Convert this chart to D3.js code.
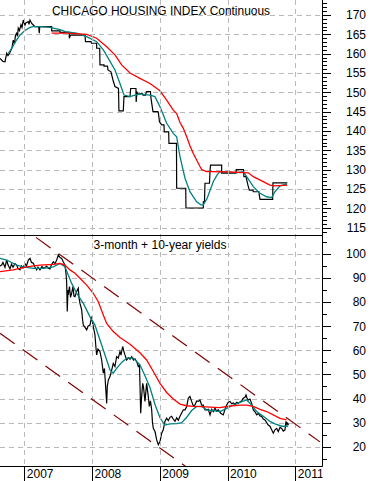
<!DOCTYPE html>
<html><head><meta charset="utf-8">
<script src="https://cdn.jsdelivr.net/npm/d3@7"></script>
<style>
html,body{margin:0;padding:0;background:#fff;}
svg{display:block;font-family:Arial,"Liberation Sans",sans-serif;}
</style></head>
<body>
<svg id="chart" width="371" height="481"></svg>
<script>
// ---------------- DATA ----------------
const years = [2007, 2008, 2009, 2010, 2011];
const housingTickLabels = [115, 120, 125, 130, 135, 140, 145, 150, 155, 160, 165, 170];
const yieldTickLabels = [20, 30, 40, 50, 60, 70, 80, 90, 100];
const topTitle = "CHICAGO HOUSING INDEX Continuous";
const bottomTitle = "3-month + 10-year yields";

// Chicago housing index continuous (decimal year, value)
const housingIndex = [
[2006.641,158.8],[2006.685,158.0],[2006.715,157.9],[2006.740,160.1],[2006.759,159.5],[2006.789,160.3],
[2006.818,161.5],[2006.837,163.5],[2006.855,162.6],[2006.870,164.8],[2006.887,165.3],[2006.899,164.5],
[2006.911,166.6],[2006.929,166.0],[2006.951,167.5],[2006.966,166.8],[2006.985,168.7],[2007.010,167.4],
[2007.025,168.0],[2007.059,168.3],[2007.069,167.6],[2007.084,168.7],[2007.109,167.8],[2007.133,167.4],
[2007.158,167.0],[2007.212,167.0],[2007.221,165.3],[2007.228,167.0],[2007.404,167.0],[2007.404,165.9],
[2007.527,165.9],[2007.527,165.5],[2007.664,165.5],[2007.664,164.0],[2007.682,164.8],[2007.896,164.8],
[2007.903,163.1],[2007.984,163.1],[2007.992,162.7],[2008.068,162.7],[2008.068,161.4],[2008.113,161.4],
[2008.117,157.1],[2008.176,157.1],[2008.176,156.8],[2008.228,156.8],[2008.235,155.8],[2008.279,155.3],
[2008.309,153.2],[2008.338,151.5],[2008.390,151.0],[2008.397,145.2],[2008.461,145.2],[2008.471,148.9],
[2008.560,148.9],[2008.570,151.0],[2008.648,151.0],[2008.651,147.5],[2008.663,150.0],[2008.685,149.5],
[2008.737,149.8],[2008.752,149.3],[2008.789,149.3],[2008.803,150.2],[2008.862,150.2],[2008.870,148.5],
[2008.899,145.0],[2008.973,145.0],[2008.980,144.6],[2008.995,142.4],[2009.028,141.6],[2009.062,141.6],
[2009.066,139.8],[2009.131,139.8],[2009.135,136.8],[2009.246,136.8],[2009.249,125.2],[2009.383,125.2],
[2009.386,120.1],[2009.642,120.1],[2009.642,121.7],[2009.659,121.7],[2009.667,126.5],[2009.733,126.5],
[2009.741,129.5],[2009.748,131.2],[2009.913,131.2],[2009.913,129.1],[2010.124,129.1],[2010.129,130.0],
[2010.235,130.0],[2010.242,128.2],[2010.272,128.2],[2010.301,126.0],[2010.321,124.7],[2010.375,124.7],
[2010.380,124.3],[2010.464,124.3],[2010.468,123.5],[2010.479,122.3],[2010.666,122.3],[2010.670,126.6],
[2010.882,126.6]
];
const housingShortMA = [
[2006.764,160.1],[2006.818,161.5],[2006.877,163.3],[2006.936,164.8],[2007.010,166.0],[2007.084,166.8],
[2007.133,167.0],[2007.231,167.0],[2007.379,166.8],[2007.527,166.2],[2007.625,165.6],[2007.773,165.3],
[2007.921,164.4],[2008.068,163.1],[2008.166,161.0],[2008.240,158.8],[2008.338,155.8],[2008.412,152.3],
[2008.471,149.3],[2008.560,148.9],[2008.634,149.3],[2008.707,149.6],[2008.781,149.4],[2008.855,149.3],
[2008.929,148.9],[2009.003,146.3],[2009.101,142.0],[2009.199,139.4],[2009.249,138.5],[2009.298,133.4],
[2009.372,127.8],[2009.445,124.3],[2009.544,121.7],[2009.608,120.9],[2009.642,120.9],[2009.696,122.5],
[2009.741,124.6],[2009.789,126.9],[2009.844,128.6],[2009.888,129.5],[2009.962,129.4],[2010.110,129.2],
[2010.232,129.5],[2010.282,128.2],[2010.380,125.6],[2010.479,123.9],[2010.577,123.0],[2010.651,122.8],
[2010.700,124.3],[2010.774,125.8],[2010.877,126.3]
];
const housingLongMA = [
[2007.404,165.3],[2007.625,165.3],[2007.921,165.0],[2008.068,164.0],[2008.216,161.8],[2008.338,159.7],
[2008.437,157.1],[2008.560,155.0],[2008.707,153.6],[2008.855,152.3],[2009.003,150.4],[2009.101,148.0],
[2009.199,145.4],[2009.249,144.5],[2009.298,142.2],[2009.347,140.7],[2009.397,138.5],[2009.445,136.2],
[2009.494,134.2],[2009.544,132.5],[2009.618,130.0],[2009.692,129.5],[2009.789,129.5],[2010.036,129.4],
[2010.306,129.2],[2010.380,128.2],[2010.527,126.9],[2010.626,126.0],[2010.700,125.8],[2010.882,126.0]
];

// 3-month + 10-year yields (decimal year, value)
const yields = [
[2006.641,95.0],[2006.666,95.4],[2006.685,96.5],[2006.715,94.5],[2006.740,97.5],[2006.759,95.5],
[2006.789,93.8],[2006.811,95.8],[2006.833,94.5],[2006.862,96.0],[2006.887,95.4],[2006.907,94.0],
[2006.936,93.4],[2006.958,95.0],[2006.980,94.2],[2007.010,96.0],[2007.032,95.0],[2007.059,97.5],
[2007.084,98.2],[2007.106,96.5],[2007.133,96.2],[2007.158,94.5],[2007.183,93.4],[2007.202,94.5],
[2007.231,93.4],[2007.261,94.8],[2007.290,94.0],[2007.330,95.0],[2007.349,94.2],[2007.379,93.8],
[2007.401,95.5],[2007.428,96.8],[2007.453,96.0],[2007.478,97.5],[2007.502,99.6],[2007.527,98.5],
[2007.552,98.2],[2007.571,97.0],[2007.600,95.4],[2007.615,92.0],[2007.625,88.5],[2007.634,76.1],
[2007.645,85.0],[2007.649,83.0],[2007.667,86.5],[2007.682,82.0],[2007.699,83.7],[2007.718,86.5],
[2007.733,82.5],[2007.748,82.3],[2007.773,84.4],[2007.797,85.8],[2007.807,82.0],[2007.822,79.5],
[2007.847,76.8],[2007.859,73.0],[2007.871,70.5],[2007.896,69.5],[2007.921,68.5],[2007.940,70.0],
[2007.969,70.5],[2007.995,74.0],[2008.014,70.5],[2008.043,66.4],[2008.058,61.0],[2008.068,58.1],
[2008.087,60.5],[2008.117,59.5],[2008.142,56.0],[2008.166,50.5],[2008.183,52.5],[2008.198,46.0],
[2008.216,38.0],[2008.225,45.0],[2008.240,47.7],[2008.265,49.1],[2008.287,51.5],[2008.313,54.6],
[2008.338,53.3],[2008.363,57.4],[2008.387,56.8],[2008.412,59.5],[2008.427,58.0],[2008.452,61.6],
[2008.471,59.5],[2008.486,58.1],[2008.511,56.0],[2008.538,57.0],[2008.560,56.3],[2008.585,57.4],
[2008.611,56.0],[2008.634,56.5],[2008.659,55.3],[2008.682,53.3],[2008.700,54.0],[2008.707,46.3],
[2008.718,33.9],[2008.730,40.0],[2008.747,46.3],[2008.759,44.9],[2008.781,38.8],[2008.806,46.3],
[2008.830,40.9],[2008.845,36.7],[2008.862,39.0],[2008.880,35.3],[2008.892,30.0],[2008.904,27.6],
[2008.929,26.3],[2008.954,22.8],[2008.978,20.8],[2009.003,22.1],[2009.028,25.6],[2009.051,27.0],
[2009.076,30.5],[2009.101,31.8],[2009.125,30.8],[2009.150,32.2],[2009.175,32.6],[2009.199,31.5],
[2009.224,30.5],[2009.249,32.0],[2009.273,31.0],[2009.298,32.6],[2009.323,34.0],[2009.347,35.3],
[2009.372,35.3],[2009.397,36.7],[2009.420,40.1],[2009.445,40.9],[2009.470,38.8],[2009.494,37.0],
[2009.519,37.3],[2009.544,39.0],[2009.568,38.8],[2009.593,39.4],[2009.618,37.3],[2009.642,37.3],
[2009.667,35.3],[2009.692,35.3],[2009.716,35.5],[2009.741,33.2],[2009.766,35.5],[2009.789,34.6],
[2009.814,36.0],[2009.839,34.8],[2009.863,35.3],[2009.899,33.9],[2009.937,33.2],[2009.962,35.5],
[2009.987,37.3],[2010.011,38.5],[2010.036,38.8],[2010.061,37.8],[2010.085,38.2],[2010.110,37.6],
[2010.135,38.4],[2010.158,38.0],[2010.183,38.6],[2010.208,39.0],[2010.232,40.1],[2010.257,40.5],
[2010.272,41.5],[2010.287,40.2],[2010.306,39.4],[2010.331,39.8],[2010.356,38.0],[2010.380,35.3],
[2010.405,34.5],[2010.430,33.2],[2010.454,33.8],[2010.479,32.8],[2010.504,32.6],[2010.527,31.5],
[2010.552,31.1],[2010.577,30.0],[2010.601,29.0],[2010.626,28.5],[2010.651,27.0],[2010.675,25.6],
[2010.700,27.0],[2010.725,27.6],[2010.749,26.3],[2010.774,28.0],[2010.799,27.6],[2010.823,26.5],
[2010.848,27.0],[2010.862,30.5],[2010.877,29.2],[2010.888,29.8],[2010.899,29.0]
];
const yieldsShortMA = [
[2006.641,98.2],[2006.740,97.5],[2006.887,95.4],[2006.985,94.7],[2007.133,94.0],[2007.280,94.0],
[2007.428,94.7],[2007.527,96.1],[2007.600,94.7],[2007.649,91.3],[2007.699,87.8],[2007.773,83.7],
[2007.871,79.5],[2007.969,74.0],[2008.043,70.5],[2008.092,66.4],[2008.142,62.2],[2008.216,56.0],
[2008.265,51.9],[2008.313,50.5],[2008.363,52.5],[2008.437,55.0],[2008.511,56.8],[2008.608,56.8],
[2008.707,54.0],[2008.781,49.5],[2008.855,44.6],[2008.929,37.5],[2009.003,32.0],[2009.076,29.0],
[2009.150,29.5],[2009.249,29.6],[2009.323,30.0],[2009.397,32.2],[2009.470,35.0],[2009.544,36.7],
[2009.618,36.7],[2009.692,35.3],[2009.789,35.0],[2009.888,34.6],[2009.987,35.9],[2010.085,37.3],
[2010.183,38.4],[2010.282,39.4],[2010.356,37.3],[2010.430,34.6],[2010.527,32.6],[2010.626,30.5],
[2010.700,29.5],[2010.799,28.5],[2010.896,28.5]
];
const yieldsLongMA = [
[2006.641,92.7],[2006.837,93.4],[2007.035,94.7],[2007.231,95.4],[2007.428,95.7],[2007.527,96.1],
[2007.600,95.4],[2007.674,93.4],[2007.748,92.0],[2007.822,89.9],[2007.921,87.1],[2008.018,83.7],
[2008.092,80.2],[2008.166,74.7],[2008.216,71.2],[2008.313,67.8],[2008.412,65.3],[2008.560,62.5],
[2008.707,59.0],[2008.806,56.0],[2008.904,51.2],[2009.003,46.3],[2009.101,42.5],[2009.199,39.8],
[2009.298,37.7],[2009.397,37.0],[2009.494,36.7],[2009.618,36.6],[2009.741,36.4],[2009.888,36.2],
[2010.036,36.9],[2010.183,37.3],[2010.282,37.3],[2010.380,36.7],[2010.479,35.5],[2010.577,34.6],
[2010.675,33.2],[2010.774,31.8],[2010.873,31.1]
];
// Downtrend channel (decimal year, value)
const channelUpper = [[2007.172,106.9],[2011.364,22.0]];
const channelLower = [[2006.641,67.1],[2009.386,11.7]];

// ---------------- LAYOUT ----------------
const W = 371, H = 481;
const plotL = 0, plotR = 322.5;
const topT = 0, topB = 235.5, botT = 235.5, botB = 466.5;

const svg = d3.select("#chart");
const x = d3.scaleLinear().domain([2007, 2011]).range([24.3, 295.3]);
const yT = d3.scaleLinear().domain([115, 170]).range([227.7, 15]);
const yB = d3.scaleLinear().domain([20, 100]).range([446.7, 254]);

const defs = svg.append("defs");
defs.append("clipPath").attr("id","clipTop").append("rect")
  .attr("x",plotL).attr("y",topT).attr("width",plotR-plotL).attr("height",topB-topT);
defs.append("clipPath").attr("id","clipBot").append("rect")
  .attr("x",plotL).attr("y",botT).attr("width",plotR-plotL).attr("height",botB-botT);
defs.append("clipPath").attr("id","clipX").append("rect")
  .attr("x",plotL).attr("y",botB).attr("width",plotR-plotL).attr("height",H-botB);

svg.append("rect").attr("width",W).attr("height",H).attr("fill","#fff");

const gridColor = "#b9b9b9";
const gridDash = "5,4";

// horizontal grid
const gTop = svg.append("g").attr("clip-path","url(#clipTop)");
const gBot = svg.append("g").attr("clip-path","url(#clipBot)");
gTop.selectAll("line.hg").data(housingTickLabels).join("line")
  .attr("x1",plotL).attr("x2",plotR).attr("y1",d=>Math.round(yT(d))+0.5).attr("y2",d=>Math.round(yT(d))+0.5)
  .attr("stroke",gridColor).attr("stroke-dasharray",gridDash);
gBot.selectAll("line.hg").data(yieldTickLabels).join("line")
  .attr("x1",plotL).attr("x2",plotR).attr("y1",d=>Math.round(yB(d))+0.5).attr("y2",d=>Math.round(yB(d))+0.5)
  .attr("stroke",gridColor).attr("stroke-dasharray",gridDash);
// vertical grid
svg.append("g").selectAll("line").data(years).join("line")
  .attr("x1",d=>Math.round(x(d))+0.5).attr("x2",d=>Math.round(x(d))+0.5)
  .attr("y1",0).attr("y2",botB)
  .attr("stroke",gridColor).attr("stroke-dasharray",gridDash);

// titles
svg.append("text").attr("x",52).attr("y",15).attr("font-size",12).attr("fill","#000")
  .attr("textLength",218).attr("lengthAdjust","spacingAndGlyphs").text(topTitle);
svg.append("text").attr("x",93.5).attr("y",248.5).attr("font-size",12).attr("fill","#000")
  .attr("textLength",133).attr("lengthAdjust","spacingAndGlyphs").text(bottomTitle);

// series
const lineT = d3.line().x(d=>x(d[0])).y(d=>yT(d[1]));
const lineB = d3.line().x(d=>x(d[0])).y(d=>yB(d[1]));

gTop.append("path").datum(housingIndex).attr("d",lineT).attr("fill","none").attr("stroke","#000").attr("stroke-width",1.2);
gTop.append("path").datum(housingShortMA).attr("d",lineT).attr("fill","none").attr("stroke","#008080").attr("stroke-width",1.3);
gTop.append("path").datum(housingLongMA).attr("d",lineT).attr("fill","none").attr("stroke","#ff0000").attr("stroke-width",1.3);

gBot.append("path").datum(yields).attr("d",lineB).attr("fill","none").attr("stroke","#000").attr("stroke-width",1.2);
gBot.append("path").datum(yieldsShortMA).attr("d",lineB).attr("fill","none").attr("stroke","#008080").attr("stroke-width",1.3);
gBot.append("path").datum(yieldsLongMA).attr("d",lineB).attr("fill","none").attr("stroke","#ff0000").attr("stroke-width",1.3);

[channelUpper, channelLower].forEach(c => {
  svg.append("path").datum(c).attr("d",lineB).attr("fill","none")
    .attr("stroke","#800000").attr("stroke-width",1.2).attr("stroke-dasharray","18,10");
});

// frame lines
svg.append("line").attr("x1",plotL).attr("x2",plotR).attr("y1",topB).attr("y2",topB).attr("stroke","#000");
svg.append("line").attr("x1",plotL).attr("x2",plotR).attr("y1",botB).attr("y2",botB).attr("stroke","#000");
svg.append("line").attr("x1",plotR).attr("x2",plotR).attr("y1",0).attr("y2",botB).attr("stroke","#000");

// right axes ticks
const topMinor = d3.range(114, 174, 1).filter(v=>v%5!==0);
const botMinor = d3.range(15, 110, 10);
function ticks(scale, vals, len){
  const ax = d3.axisRight(scale).tickValues(vals).tickSize(len).tickFormat("");
  const g = svg.append("g").attr("transform",`translate(${plotR},0)`).call(ax);
  g.select(".domain").remove();
  g.selectAll("line").attr("stroke","#000").attr("shape-rendering","crispEdges");
}
ticks(yT, topMinor, 4);
ticks(yT, d3.range(115, 175, 5), 8);
ticks(yB, botMinor, 4);
ticks(yB, d3.range(20, 110, 10), 8);

// right axes labels
svg.append("g").selectAll("text").data(housingTickLabels).join("text")
  .attr("x",366).attr("y",d=>yT(d)).attr("dy","0.36em").attr("text-anchor","end")
  .attr("font-size",12).attr("fill","#000").text(d=>d);
svg.append("g").selectAll("text").data(yieldTickLabels).join("text")
  .attr("x",366).attr("y",d=>yB(d)).attr("dy","0.36em").attr("text-anchor","end")
  .attr("font-size",12).attr("fill","#000").text(d=>d);

// x axis
const xAx = d3.axisBottom(x).tickValues(years).tickSize(H-botB).tickFormat(d3.format("d"));
const gx = svg.append("g").attr("transform",`translate(0,${botB})`).attr("clip-path","url(#clipX)");
gx.call(xAx);
gx.attr("clip-path",null);
gx.select(".domain").remove();
gx.selectAll(".tick line").attr("stroke","#000").attr("shape-rendering","crispEdges");
gx.selectAll(".tick text").attr("x",2).attr("y",11.8).attr("dy",null)
  .attr("text-anchor","start").attr("font-size",12).attr("font-family","Arial, 'Liberation Sans', sans-serif").attr("fill","#000");
// clip x labels to plot width
const gxWrap = svg.append("g").attr("clip-path","url(#clipX)").node();
gxWrap.appendChild(gx.node());
gx.attr("transform",`translate(0,${botB})`);
defs.select("#clipX rect").attr("y",0).attr("height",H);
</script>
</body></html>
